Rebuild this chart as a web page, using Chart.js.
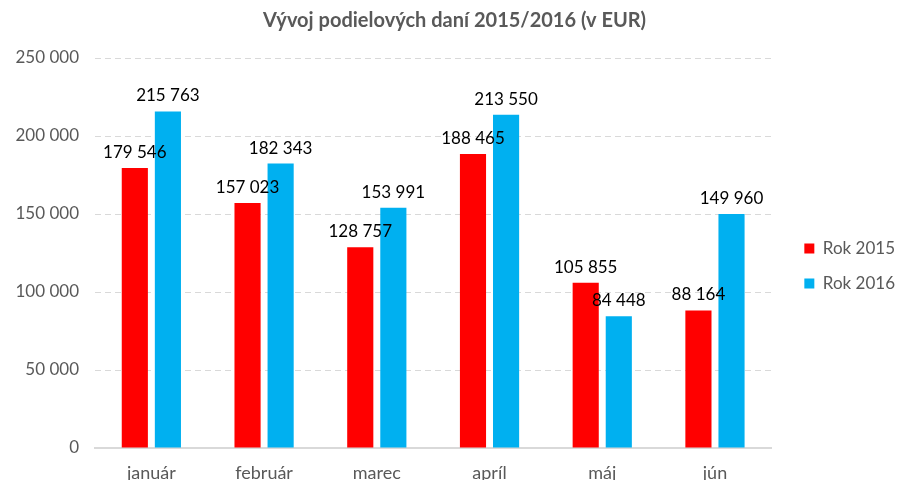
<!DOCTYPE html>
<html>
<head>
<meta charset="utf-8">
<script src="https://cdn.jsdelivr.net/npm/chart.js@4.4.1/dist/chart.umd.min.js"></script>
<style>
  html, body { margin: 0; padding: 0; background: #fff; }
  #wrap { width: 897px; height: 480px; }
</style>
</head>
<body>
<div id="wrap"><canvas id="chart" width="897" height="480"></canvas></div>
<script>
// udaje z grafu
const months = ['január', 'február', 'marec', 'apríl', 'máj', 'jún'];
const rok2015 = [179546, 157023, 128757, 188465, 105855, 88164];
const rok2016 = [215763, 182343, 153991, 213550, 84448, 149960];
const yTicks = [0, 50000, 100000, 150000, 200000, 250000];

const FONT = 'Lato, "Open Sans", sans-serif';
const GREY = '#595959';

// cislo s medzerou ako oddelovacom tisicov
function fmt(v) {
    return String(v).replace(/\B(?=(\d{3})+(?!\d))/g, ' ');
}

// popisky nad stlpcami
const barLabels = {
    id: 'barLabels',
    afterDatasetsDraw(chart) {
        const ctx = chart.ctx;
        ctx.save();
        ctx.font = '17px ' + FONT;
        ctx.fillStyle = '#000';
        ctx.textAlign = 'center';
        ctx.textBaseline = 'bottom';
        chart.data.datasets.forEach((ds, i) => {
            chart.getDatasetMeta(i).data.forEach((bar, j) => {
                ctx.fillText(fmt(ds.data[j]), bar.x, bar.y - 7);
            });
        });
        ctx.restore();
    }
};

new Chart(document.getElementById('chart'), {
    type: 'bar',
    data: {
        labels: months,
        datasets: [
            { label: 'Rok 2015', data: rok2015, backgroundColor: '#FF0000' },
            { label: 'Rok 2016', data: rok2016, backgroundColor: '#00B0F0' }
        ]
    },
    options: {
        responsive: false,
        animation: false,
        devicePixelRatio: 1,
        datasets: { bar: { barPercentage: 0.79, categoryPercentage: 0.587 } },
        layout: { padding: { left: 4, right: -8, top: 0, bottom: 0 } },
        plugins: {
            title: {
                display: true,
                text: 'Vývoj podielových daní 2015/2016 (v EUR)',
                color: GREY,
                font: { family: FONT, size: 20, weight: 'bold' },
                padding: { top: 9, bottom: 25 }
            },
            legend: {
                position: 'right',
                title: { display: true, text: ' ', font: { size: 10 }, padding: 20 },
                labels: {
                    color: GREY,
                    font: { family: FONT, size: 17 },
                    boxWidth: 10,
                    boxHeight: 10,
                    padding: 18
                }
            },
            tooltip: { enabled: false }
        },
        scales: {
            x: {
                afterFit(axis) { axis.height = 32; },
                grid: { display: false },
                border: { color: '#D9D9D9', width: 2 },
                ticks: { color: GREY, font: { family: FONT, size: 18 }, padding: 6 }
            },
            y: {
                min: 0,
                max: 250000,
                afterBuildTicks(axis) {
                    axis.ticks = yTicks.map(v => ({ value: v }));
                },
                afterFit(axis) { axis.width = 91; },
                grid: {
                    color: '#D9D9D9',
                    drawTicks: false
                },
                border: { display: false, dash: [6, 4] },
                ticks: {
                    color: GREY,
                    font: { family: FONT, size: 17 },
                    padding: 16,
                    callback: v => fmt(v)
                }
            },
            // prazdna os vpravo, len odsadi legendu
            gap: {
                position: 'right',
                afterFit(axis) { axis.width = 15; },
                grid: { display: false },
                border: { display: false },
                ticks: { display: false }
            }
        }
    },
    plugins: [barLabels]
});
</script>
</body>
</html>
